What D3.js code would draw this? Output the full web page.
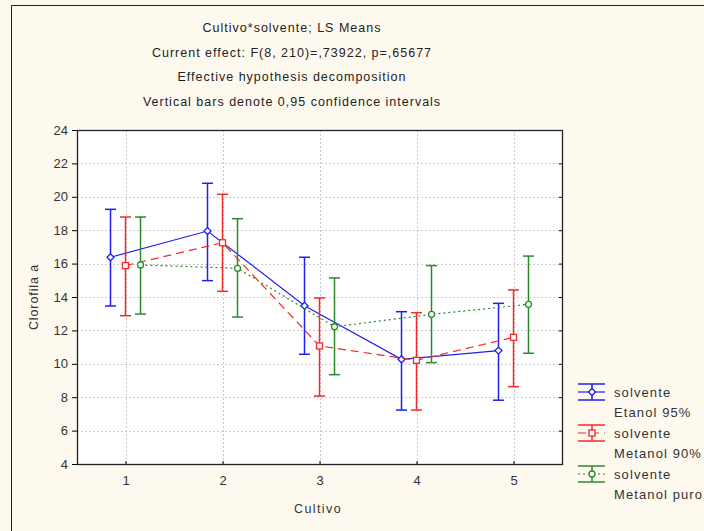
<!DOCTYPE html>
<html>
<head>
<meta charset="utf-8">
<script src="https://cdn.jsdelivr.net/npm/d3@7"></script>
<style>
  html, body { margin: 0; padding: 0; background: #fef9ef; }
  svg { display: block; }
  text { font-family: "Liberation Sans", Arial, sans-serif; }
</style>
</head>
<body>
<svg id="chart" width="704" height="531"></svg>
<script>
// LS means of chlorophyll a per cultivar and solvent, with 0.95 CI bounds
const cultivos = [1, 2, 3, 4, 5];
const yTicks = [4, 6, 8, 10, 12, 14, 16, 18, 20, 22, 24];

const etanolMean = [16.38, 17.95, 13.48, 10.27, 10.79];
const etanolLow  = [13.46, 14.98, 10.57, 7.23, 7.82];
const etanolHigh = [19.25, 20.81, 16.38, 13.12, 13.62];

const metanol90Mean = [15.88, 17.25, 11.07, 10.21, 11.59];
const metanol90Low  = [12.88, 14.34, 8.07, 7.23, 8.63];
const metanol90High = [18.79, 20.15, 13.94, 13.06, 14.42];

const puroMean = [15.92, 15.72, 12.22, 12.96, 13.56];
const puroLow  = [12.98, 12.80, 9.35, 10.07, 10.63];
const puroHigh = [18.79, 18.69, 15.14, 15.88, 16.45];

const titleLines = [
  "Cultivo*solvente; LS Means",
  "Current effect: F(8, 210)=,73922, p=,65677",
  "Effective hypothesis decomposition",
  "Vertical bars denote 0,95 confidence intervals"
];

const series = [
  { name: ["solvente", "Etanol 95%"], mean: etanolMean, low: etanolLow, high: etanolHigh,
    color: "#1f1ff2", dash: null, marker: "diamond", offset: -15 },
  { name: ["solvente", "Metanol 90%"], mean: metanol90Mean, low: metanol90Low, high: metanol90High,
    color: "#f22a2a", dash: "8,5", marker: "square", offset: 0 },
  { name: ["solvente", "Metanol puro"], mean: puroMean, low: puroLow, high: puroHigh,
    color: "#2a8a2a", dash: "2,3", marker: "circle", offset: 15 }
];

const svg = d3.select("#chart");
const plot = { left: 77, right: 562, top: 130, bottom: 464 };

// outer frame (top and left edges)
svg.append("path")
  .attr("d", "M11.5,540V5.5H710")
  .attr("fill", "none").attr("stroke", "#222").attr("stroke-width", 1);

// titles
svg.append("g").selectAll("text").data(titleLines).join("text")
  .attr("x", 292).attr("y", (d, i) => 32 + i * 24.5)
  .attr("text-anchor", "middle")
  .attr("font-size", 12.5).attr("letter-spacing", 1.0)
  .attr("fill", "#222")
  .text(d => d);

const x = d3.scaleLinear().domain([0.5, 5.5]).range([plot.left, plot.right]);
const y = d3.scaleLinear().domain([4, 24]).range([plot.bottom, plot.top]);

// plot background
svg.append("rect")
  .attr("x", plot.left).attr("y", plot.top)
  .attr("width", plot.right - plot.left).attr("height", plot.bottom - plot.top)
  .attr("fill", "#ffffff");

// dotted grid
const grid = svg.append("g").attr("stroke", "#cacaca").attr("stroke-dasharray", "2,2").attr("stroke-width", 1);
grid.selectAll(".gx").data(cultivos).join("line")
  .attr("x1", d => Math.round(x(d)) + 0.5).attr("x2", d => Math.round(x(d)) + 0.5)
  .attr("y1", plot.top).attr("y2", plot.bottom);
grid.selectAll(".gy").data(yTicks.slice(1, -1)).join("line")
  .attr("y1", d => Math.round(y(d)) + 0.5).attr("y2", d => Math.round(y(d)) + 0.5)
  .attr("x1", plot.left).attr("x2", plot.right);

// axes
const yAxis = d3.axisLeft(y).tickValues(yTicks).tickSize(5).tickPadding(4);
const gy = svg.append("g").attr("transform", `translate(${plot.left},0)`).call(yAxis);
gy.select(".domain").remove();
gy.selectAll("text").attr("font-size", 13).attr("fill", "#333").attr("font-family", "Liberation Sans, Arial, sans-serif");

const yAxisR = d3.axisLeft(y).tickValues(yTicks).tickSize(3).tickFormat("");
const gyr = svg.append("g").attr("transform", `translate(${plot.right},0)`).call(yAxisR);
gyr.select(".domain").remove();

const xAxis = d3.axisBottom(x).tickValues(cultivos).tickSize(-3).tickPadding(12).tickFormat(d3.format("d"));
const gx = svg.append("g").attr("transform", `translate(0,${plot.bottom})`).call(xAxis);
gx.select(".domain").remove();
gx.selectAll("text").attr("font-size", 13).attr("fill", "#333").attr("font-family", "Liberation Sans, Arial, sans-serif");

svg.append("rect")
  .attr("x", plot.left + 0.5).attr("y", plot.top + 0.5)
  .attr("width", plot.right - plot.left).attr("height", plot.bottom - plot.top)
  .attr("fill", "none").attr("stroke", "#222").attr("stroke-width", 1.3);

// axis titles
svg.append("text")
  .attr("x", 318).attr("y", 513)
  .attr("text-anchor", "middle").attr("font-size", 12.5).attr("letter-spacing", 1.4)
  .attr("fill", "#333").text("Cultivo");
svg.append("text")
  .attr("transform", "translate(38,297) rotate(-90)")
  .attr("text-anchor", "middle").attr("font-size", 12.5).attr("letter-spacing", 0.9)
  .attr("fill", "#333").text("Clorofila a");

function drawMarker(g, type, cx, cy, color) {
  if (type === "square") {
    g.append("rect").attr("x", cx - 3).attr("y", cy - 3).attr("width", 6).attr("height", 6)
      .attr("fill", "#fff").attr("stroke", color).attr("stroke-width", 1.3);
  } else if (type === "diamond") {
    g.append("path").attr("d", `M${cx},${cy - 3.5}L${cx + 3.5},${cy}L${cx},${cy + 3.5}L${cx - 3.5},${cy}Z`)
      .attr("fill", "#fff").attr("stroke", color).attr("stroke-width", 1.3);
  } else {
    g.append("circle").attr("cx", cx).attr("cy", cy).attr("r", 3)
      .attr("fill", "#fff").attr("stroke", color).attr("stroke-width", 1.3);
  }
}

// series: connecting line, error bars, markers
series.forEach(s => {
  const g = svg.append("g");
  const px = i => x(cultivos[i]) + s.offset;
  const line = d3.line().x((d, i) => px(i)).y(d => y(d));
  g.append("path").datum(s.mean).attr("d", line)
    .attr("fill", "none").attr("stroke", s.color).attr("stroke-width", 1.2)
    .attr("stroke-dasharray", s.dash);
  cultivos.forEach((c, i) => {
    const cx = px(i);
    g.append("line").attr("x1", cx).attr("x2", cx)
      .attr("y1", y(s.low[i])).attr("y2", y(s.high[i]))
      .attr("stroke", s.color).attr("stroke-width", 1.5);
    [s.low[i], s.high[i]].forEach(v => {
      g.append("line").attr("x1", cx - 5.5).attr("x2", cx + 5.5)
        .attr("y1", y(v)).attr("y2", y(v))
        .attr("stroke", s.color).attr("stroke-width", 1.5);
    });
    drawMarker(g, s.marker, cx, y(s.mean[i]), s.color);
  });
});

// legend
const legend = svg.append("g");
series.forEach((s, k) => {
  const cy = 392 + k * 41;
  const g = legend.append("g");
  g.append("line").attr("x1", 578).attr("x2", 605).attr("y1", cy).attr("y2", cy)
    .attr("stroke", s.color).attr("stroke-width", 1.2).attr("stroke-dasharray", s.dash);
  g.append("line").attr("x1", 592).attr("x2", 592).attr("y1", cy - 8).attr("y2", cy + 8)
    .attr("stroke", s.color).attr("stroke-width", 1.5);
  [cy - 8, cy + 8].forEach(v => {
    g.append("line").attr("x1", 578).attr("x2", 605).attr("y1", v).attr("y2", v)
      .attr("stroke", s.color).attr("stroke-width", 1.5);
  });
  drawMarker(g, s.marker, 592, cy, s.color);
  s.name.forEach((t, j) => {
    g.append("text").attr("x", 614).attr("y", cy + 4.5 + j * 20.5)
      .attr("font-size", 13).attr("letter-spacing", 1.1).attr("fill", "#333").text(t);
  });
});
</script>
</body>
</html>
